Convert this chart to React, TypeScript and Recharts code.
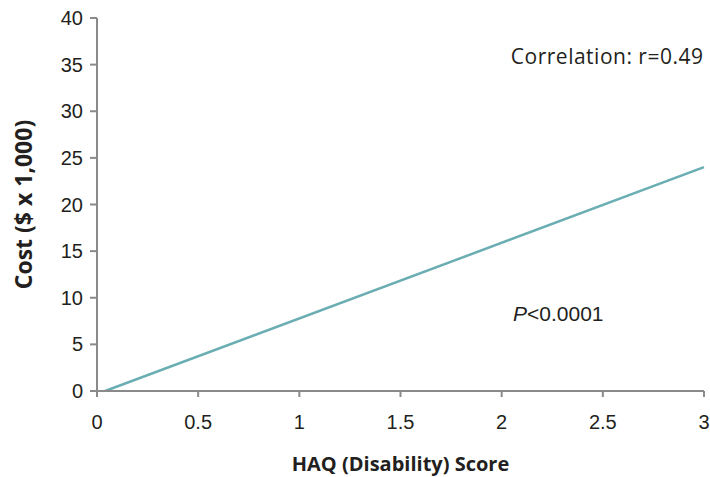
import React from 'react';
import { LineChart, Line, XAxis, YAxis, Label } from 'recharts';

// Fitted regression line: HAQ score vs. cost
const haqScores = [0.04, 3];
const costThousands = [0, 24];
const xTicks = [0, 0.5, 1, 1.5, 2, 2.5, 3];
const yTicks = [0, 5, 10, 15, 20, 25, 30, 35, 40];

const correlationText = 'Correlation: r=0.49';
const pValueText = '<0.0001';

const data = haqScores.map((haq, i) => ({ haq, cost: costThousands[i] }));

const TITLE_FONT = '"Open Sans", Lato, sans-serif';
const TICK_FONT = '"Liberation Sans", Arial, sans-serif';
const AXIS_COLOR = '#8a8a8a';
const TEXT_COLOR = '#231f20';

export default function App() {
  return (
    <div style={{ position: 'absolute', left: 0, top: 0, width: 710, height: 477, fontFamily: TITLE_FONT, background: '#fff' }}>
      <LineChart width={710} height={477} data={data} margin={{ top: 18, right: 6, bottom: 56, left: 37 }}>
        <XAxis
          dataKey="haq"
          type="number"
          domain={[0, 3]}
          ticks={xTicks}
          height={30}
          stroke={AXIS_COLOR}
          strokeWidth={2}
          tickSize={6}
          tickMargin={18}
          tick={{ fill: TEXT_COLOR, fontSize: 20, fontFamily: TICK_FONT }}
        >
          <Label
            value="HAQ (Disability) Score"
            position="insideBottom"
            offset={-50}
            style={{ fill: TEXT_COLOR, fontSize: 20, fontWeight: 700, fontFamily: TITLE_FONT }}
          />
        </XAxis>
        <YAxis
          type="number"
          domain={[0, 40]}
          ticks={yTicks}
          width={60}
          stroke={AXIS_COLOR}
          strokeWidth={2}
          tickSize={7}
          tickMargin={7}
          tick={{ fill: TEXT_COLOR, fontSize: 20, fontFamily: TICK_FONT }}
        >
          <Label
            value="Cost ($ x 1,000)"
            angle={-90}
            position="left"
            offset={0}
            dx={-13}
            style={{ fill: TEXT_COLOR, fontSize: 23, fontWeight: 700, fontFamily: TITLE_FONT, textAnchor: 'middle' }}
          />
        </YAxis>
        <Line
          dataKey="cost"
          stroke="#6aaeb3"
          strokeWidth={2.5}
          dot={false}
          isAnimationActive={false}
        />
      </LineChart>
      <div style={{ position: 'absolute', right: 6.5, top: 46, fontSize: 21, lineHeight: 1, letterSpacing: 0.5, color: TEXT_COLOR, whiteSpace: 'nowrap' }}>
        {correlationText}
      </div>
      <div style={{ position: 'absolute', left: 513, top: 303, fontSize: 21, lineHeight: 1, fontFamily: TICK_FONT, color: TEXT_COLOR, whiteSpace: 'nowrap' }}>
        <i>P</i>{pValueText}
      </div>
    </div>
  );
}
